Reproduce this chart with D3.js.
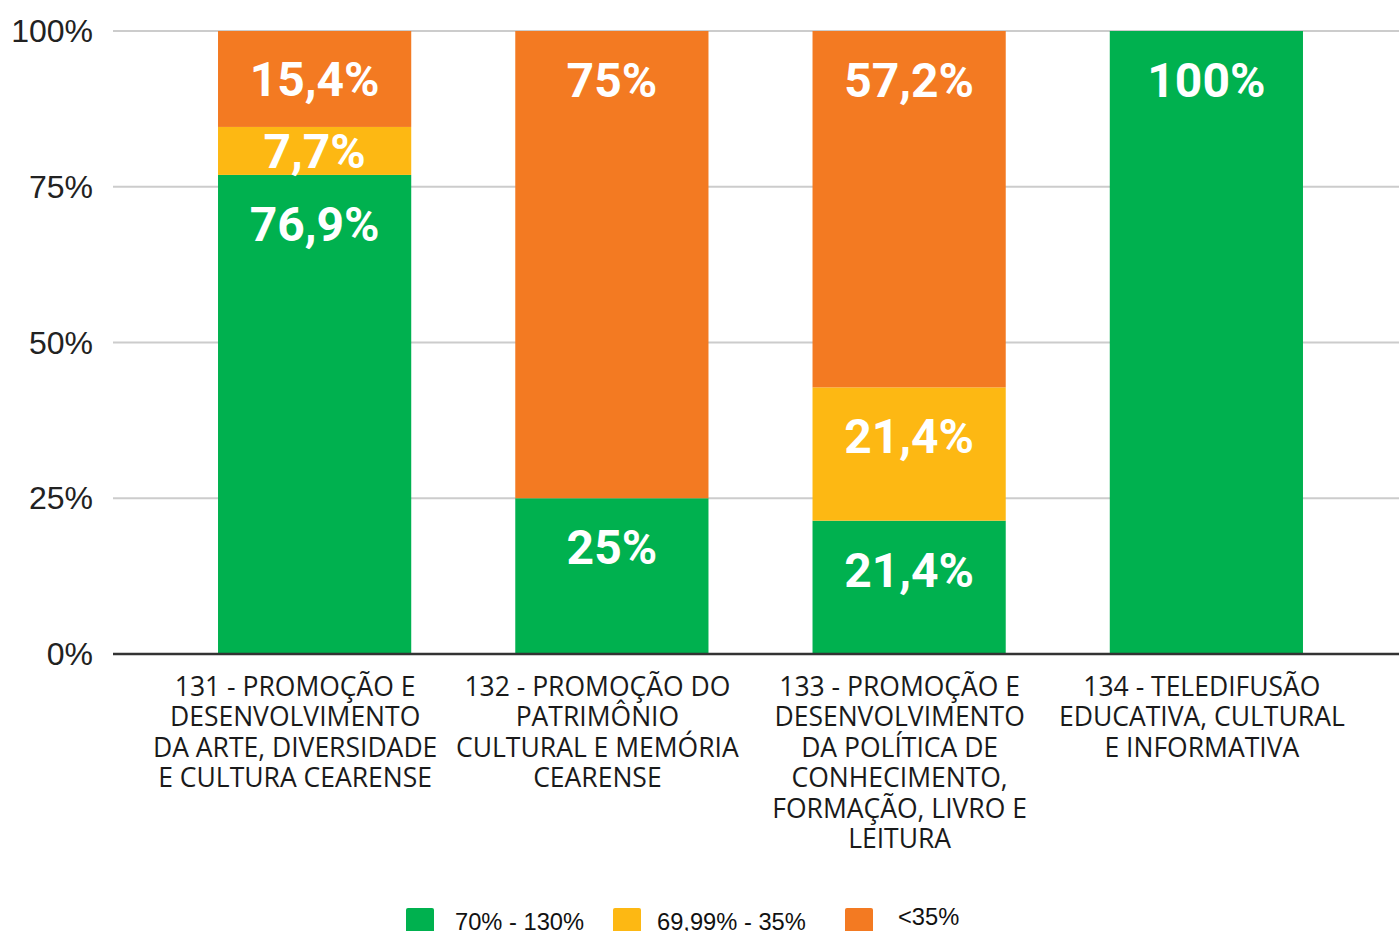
<!DOCTYPE html>
<html>
<head>
<meta charset="utf-8">
<script src="https://cdn.jsdelivr.net/npm/d3@7"></script>
<style>
  body { margin: 0; background: #fff; }
  svg { display: block; }
</style>
</head>
<body>
<div id="chart"></div>
<script>
// dados
const categorias = [
  ["131 - PROMOÇÃO E", "DESENVOLVIMENTO", "DA ARTE, DIVERSIDADE", "E CULTURA CEARENSE"],
  ["132 - PROMOÇÃO DO", "PATRIMÔNIO", "CULTURAL E MEMÓRIA", "CEARENSE"],
  ["133 - PROMOÇÃO E", "DESENVOLVIMENTO", "DA POLÍTICA DE", "CONHECIMENTO,", "FORMAÇÃO, LIVRO E", "LEITURA"],
  ["134 - TELEDIFUSÃO", "EDUCATIVA, CULTURAL", "E INFORMATIVA"]
];
const legendas = ["70% - 130%", "69,99% - 35%", "<35%"];
const verde = [76.9, 25, 21.4, 100];
const amarelo = [7.7, 0, 21.4, 0];
const laranja = [15.4, 75, 57.2, 0];
const ticks = [0, 25, 50, 75, 100];
const cores = ["#00b14f", "#fdb813", "#f37a22"];

const width = 1399, height = 931;
const svg = d3.select("#chart").append("svg")
  .attr("width", width)
  .attr("height", height);

const x = d3.scaleBand().domain(d3.range(4)).range([166, 1355])
  .paddingInner(0.35).paddingOuter(0.175);
// rótulos das categorias ficam um pouco deslocados em relação às barras
const xLabel = d3.scaleBand().domain(d3.range(4)).range([144, 1353]);
const y = d3.scaleLinear().domain([0, 100]).range([654, 31]);

// grade
svg.append("g")
  .selectAll("line")
  .data(ticks.filter(d => d > 0))
  .enter().append("line")
  .attr("x1", 113).attr("x2", width)
  .attr("y1", d => y(d)).attr("y2", d => y(d))
  .attr("stroke", "#cccccc")
  .attr("stroke-width", 2);

svg.append("g")
  .selectAll("text")
  .data(ticks)
  .enter().append("text")
  .attr("x", 93)
  .attr("y", d => y(d))
  .attr("dy", "0.35em")
  .attr("text-anchor", "end")
  .attr("font-family", "Liberation Sans, Arial, sans-serif")
  .attr("font-size", 32)
  .attr("fill", "#222")
  .text(d => d + "%");

// pilhas
const tabela = d3.range(4).map(i => ({ i: i, v0: verde[i], v1: amarelo[i], v2: laranja[i] }));
const pilha = d3.stack().keys(["v0", "v1", "v2"])(tabela);

const camadas = svg.append("g")
  .selectAll("g")
  .data(pilha)
  .enter().append("g")
  .attr("fill", (d, k) => cores[k]);

camadas.selectAll("rect")
  .data(d => d.filter(s => s[1] - s[0] > 0))
  .enter().append("rect")
  .attr("x", d => x(d.data.i))
  .attr("width", x.bandwidth())
  .attr("y", d => y(d[1]))
  .attr("height", d => y(d[0]) - y(d[1]));

function fmt(v) {
  return String(v).replace(".", ",") + "%";
}

camadas.selectAll("text")
  .data(d => d.filter(s => s[1] - s[0] > 0))
  .enter().append("text")
  .attr("x", d => x(d.data.i) + x.bandwidth() / 2)
  .attr("y", d => {
    let topo = y(d[1]), base = y(d[0]);
    if (base - topo < 100) return (topo + base) / 2 + 17;
    return topo + 66;
  })
  .attr("text-anchor", "middle")
  .attr("font-family", "Roboto, sans-serif")
  .attr("font-weight", "bold")
  .attr("font-size", 48)
  .attr("fill", "#fff")
  .text(d => fmt(Math.round((d[1] - d[0]) * 10) / 10));

// linha de base
svg.append("line")
  .attr("x1", 113).attr("x2", width)
  .attr("y1", y(0)).attr("y2", y(0))
  .attr("stroke", "#333")
  .attr("stroke-width", 2.5);

// rótulos do eixo x
svg.append("g")
  .selectAll("text")
  .data(categorias)
  .enter().append("text")
  .attr("x", (d, i) => xLabel(i) + xLabel.bandwidth() / 2)
  .attr("y", 696)
  .attr("text-anchor", "middle")
  .attr("font-family", "Open Sans, sans-serif")
  .attr("font-size", 26.5)
  .attr("fill", "#1a1a1a")
  .each(function (linhas) {
    let t = d3.select(this);
    linhas.forEach((l, k) => {
      t.append("tspan")
        .attr("x", t.attr("x"))
        .attr("y", 696 + k * 30.4)
        .text(l);
    });
  });

// legenda
const legX = [406, 613, 845];
const legTx = [455, 657, 898];
const legY = [930, 930, 925];
const leg = svg.append("g")
  .selectAll("g")
  .data(legendas)
  .enter().append("g");

leg.append("rect")
  .attr("x", (d, i) => legX[i])
  .attr("y", 908)
  .attr("width", 28)
  .attr("height", 30)
  .attr("rx", 2)
  .attr("fill", (d, i) => cores[i]);

leg.append("text")
  .attr("x", (d, i) => legTx[i])
  .attr("y", (d, i) => legY[i])
  .attr("font-family", "Liberation Sans, Arial, sans-serif")
  .attr("font-size", 23.7)
  .attr("fill", "#111")
  .text(d => d);
</script>
</body>
</html>
